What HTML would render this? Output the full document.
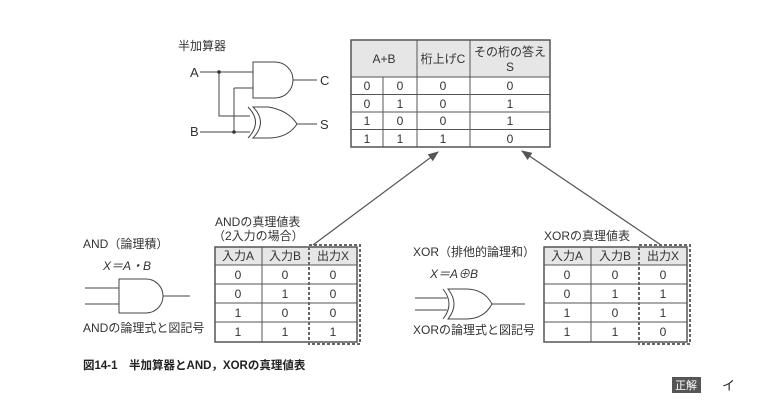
<!DOCTYPE html>
<html><head><meta charset="utf-8"><style>
html,body{margin:0;padding:0;background:#fff;}
svg{display:block;}
text{font-family:"Liberation Sans","Noto Sans CJK JP",sans-serif;fill:#333;font-size:12px;}
.c{text-anchor:middle;}
</style></head><body>
<svg width="768" height="416" viewBox="0 0 768 416" xmlns="http://www.w3.org/2000/svg">
<defs><marker id="ar" viewBox="0 0 10 10" refX="9" refY="5" markerWidth="9" markerHeight="9" orient="auto"><path d="M0,1 L10,5 L0,9 z" fill="#555"/></marker></defs>
<g stroke="#444" stroke-width="1" fill="none">
<path d="M200,72 H253 M219,72 V116 H250 M234,88 H253 M234,88 V132 M200,132 H250"/>
<path d="M253,62 H275 A18,18 0 0 1 275,98 H253 Z" fill="#fff"/>
<path d="M293,80 H317"/>
<path d="M253,107 Q268,122 253,138 H268 Q288,138 297,124 Q288,110 268,107 Z" fill="#fff"/>
<path d="M248,107 Q263,122 248,138"/>
<path d="M297,124 H317"/>
</g>
<circle cx="219" cy="72" r="1.8" fill="#333"/><circle cx="234" cy="132" r="1.8" fill="#333"/>
<text x="178" y="50">半加算器</text>
<text x="190" y="77" style="font-size:13px">A</text>
<text x="190" y="136" style="font-size:13px">B</text>
<text x="320" y="85" style="font-size:13px">C</text>
<text x="320" y="129" style="font-size:13px">S</text>
<rect x="351" y="40" width="199" height="37" fill="#e6e6e6"/>
<g stroke="#555" stroke-width="1" fill="none">
<rect x="351" y="40" width="199" height="107" stroke-width="1.5"/>
<path d="M351,77 H550 M351,94.5 H550 M351,112 H550 M351,129.5 H550 M383,77 V147 M417,40 V147 M470,40 V147"/>
</g>
<text class="c" x="384" y="63">A+B</text>
<text class="c" x="443" y="63">桁上げC</text>
<text class="c" x="510" y="56">その桁の答え</text>
<text class="c" x="510" y="71">S</text>
<text class="c" x="367" y="90">0</text><text class="c" x="400" y="90">0</text><text class="c" x="443" y="90">0</text><text class="c" x="510" y="90">0</text>
<text class="c" x="367" y="108">0</text><text class="c" x="400" y="108">1</text><text class="c" x="443" y="108">0</text><text class="c" x="510" y="108">1</text>
<text class="c" x="367" y="125">1</text><text class="c" x="400" y="125">0</text><text class="c" x="443" y="125">0</text><text class="c" x="510" y="125">1</text>
<text class="c" x="367" y="143">1</text><text class="c" x="400" y="143">1</text><text class="c" x="443" y="143">1</text><text class="c" x="510" y="143">0</text>
<path d="M313,245 L438,152" stroke="#555" stroke-width="1.2" marker-end="url(#ar)"/>
<path d="M661,245 L522,151" stroke="#555" stroke-width="1.2" marker-end="url(#ar)"/>
<text x="83" y="248">AND（論理積）</text>
<text x="103" y="270" style="font-style:italic">X＝A・B</text>
<g stroke="#444" fill="none">
<path d="M85,288 H119 M85,304 H119 M163,296 H190"/>
<path d="M119,279 H146 A17,17 0 0 1 146,313 H119 Z" fill="#fff"/>
</g>
<text x="83" y="332">ANDの論理式と図記号</text>
<text x="215" y="226">ANDの真理値表</text>
<text x="213" y="240">（2入力の場合）</text>
<rect x="215" y="247" width="142" height="18" fill="#e6e6e6"/>
<g stroke="#555" fill="none">
<rect x="215" y="247" width="142" height="95" stroke-width="1.5"/>
<path d="M215,265 H357 M215,284 H357 M215,303 H357 M215,322 H357 M262,247 V342"/>
<rect x="309" y="245" width="51" height="99" stroke-dasharray="3,2" stroke-width="2" stroke="#666"/>
</g>
<text class="c" x="238" y="260">入力A</text><text class="c" x="285" y="260">入力B</text><text class="c" x="333" y="260">出力X</text>
<text class="c" x="238" y="279">0</text><text class="c" x="285" y="279">0</text><text class="c" x="333" y="279">0</text>
<text class="c" x="238" y="298">0</text><text class="c" x="285" y="298">1</text><text class="c" x="333" y="298">0</text>
<text class="c" x="238" y="317">1</text><text class="c" x="285" y="317">0</text><text class="c" x="333" y="317">0</text>
<text class="c" x="238" y="336">1</text><text class="c" x="285" y="336">1</text><text class="c" x="333" y="336">1</text>
<text x="413" y="256">XOR（排他的論理和）</text>
<text x="430" y="278" style="font-style:italic">X＝A⊕B</text>
<g stroke="#444" fill="none">
<path d="M415,298 H447 M415,310 H447 M492,304 H525"/>
<path d="M448,289 Q460,304 448,319 H466 Q484,319 492,304 Q484,289 466,289 Z" fill="#fff"/>
<path d="M443,289 Q455,304 443,319"/>
</g>
<text x="413" y="334">XORの論理式と図記号</text>
<text x="544" y="240">XORの真理値表</text>
<rect x="544" y="247" width="143" height="18" fill="#e6e6e6"/>
<g stroke="#555" fill="none">
<rect x="544" y="247" width="143" height="95" stroke-width="1.5"/>
<path d="M544,265 H687 M544,284 H687 M544,303 H687 M544,322 H687 M591,247 V342"/>
<rect x="639" y="245" width="51" height="99" stroke-dasharray="3,2" stroke-width="2" stroke="#666"/>
</g>
<text class="c" x="567" y="260">入力A</text><text class="c" x="615" y="260">入力B</text><text class="c" x="663" y="260">出力X</text>
<text class="c" x="567" y="279">0</text><text class="c" x="615" y="279">0</text><text class="c" x="663" y="279">0</text>
<text class="c" x="567" y="298">0</text><text class="c" x="615" y="298">1</text><text class="c" x="663" y="298">1</text>
<text class="c" x="567" y="317">1</text><text class="c" x="615" y="317">0</text><text class="c" x="663" y="317">1</text>
<text class="c" x="567" y="336">1</text><text class="c" x="615" y="336">1</text><text class="c" x="663" y="336">0</text>
<text x="83" y="369" style="font-weight:bold;font-size:11.5px;fill:#222">図14-1　半加算器とAND，XORの真理値表</text>
<rect x="672" y="377" width="29" height="16" fill="#555"/>
<text class="c" x="686" y="389" style="fill:#fff;font-size:11px">正解</text>
<text x="722" y="390" style="font-size:13px;fill:#222">イ</text>
</svg>
</body></html>
